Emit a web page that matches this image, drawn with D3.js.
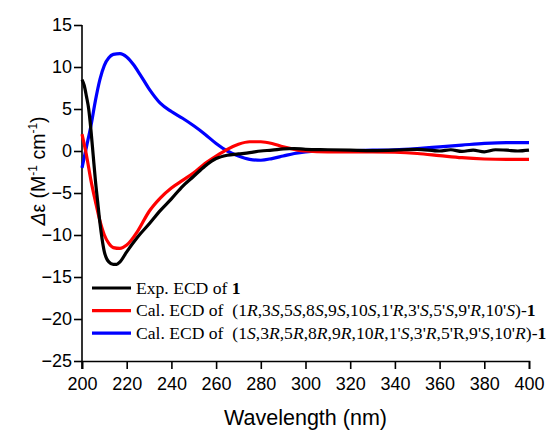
<!DOCTYPE html>
<meta charset="utf-8">
<style>
  body { margin: 0; background: #fff; }
  svg { display: block; }
</style>
<svg width="549" height="430"></svg>
<script src="https://d3js.org/d3.v7.min.js"></script>
<script>

// wavelengths (nm) and Δε values
var expWl  = [200,201,202,203,204,205,206,207,208,209,210,211,212,214,215.5,217,220,225,230,235,240,245,250,255,260,265,270,275,280,285,290,295,300,310,320,330,340,350,360,365,370,375,380,385,390,395,400];
var expVal = [8.5,7.8,6.5,5,2.5,-0.5,-3.5,-6,-8.5,-10.5,-12,-12.8,-13.2,-13.5,-13.5,-13.2,-12,-10.2,-8.7,-7.1,-5.7,-4.2,-3,-1.8,-0.9,-0.5,-0.35,-0.2,0,0.1,0.25,0.3,0.2,0.15,0.1,0.05,0.1,0.2,0,0.15,-0.05,0.1,-0.1,0.15,0.1,0,0.1];

var redWl  = [200,202,204,206,208,210,212,214,217,220,225,230,235,240,245,250,255,260,265,270,275,280,285,290,295,300,310,320,330,340,350,360,370,380,390,400];
var redVal = [2,-0.5,-3.5,-6,-8.3,-10,-11,-11.5,-11.6,-11.2,-9.5,-7.2,-5.6,-4.4,-3.5,-2.6,-1.5,-0.6,0.2,0.8,1.1,1.1,0.9,0.5,0.2,0,-0.1,-0.1,-0.1,-0.15,-0.3,-0.55,-0.8,-0.95,-1,-1];

var blueWl  = [200,202,204,206,208,210,212,214,217,220,223,226,230,235,240,245,250,255,260,265,270,275,280,285,290,295,300,310,320,330,340,350,360,370,380,390,400];
var blueVal = [-2,0.5,3,6,8.5,10.2,11.1,11.5,11.6,11.2,10.3,9.1,7.4,5.7,4.7,3.9,3,2,0.9,0,-0.6,-1,-1.1,-0.9,-0.6,-0.3,-0.1,0.05,0.05,0.1,0.15,0.3,0.5,0.7,0.9,1,1];

var xTicks = [200,220,240,260,280,300,320,340,360,380,400];
var yTicks = [-25,-20,-15,-10,-5,0,5,10,15];

var svg = d3.select("svg"),
    margin = {top: 25, left: 82},
    width = 447,
    height = 336,
    g = svg.append("g").attr("transform", "translate(" + margin.left + "," + margin.top + ")");

var x = d3.scaleLinear().domain([200, 400]).range([0, width]);
var y = d3.scaleLinear().domain([-25, 15]).range([height, 0]);

var sans = "Arial, 'Liberation Sans', sans-serif",
    serif = "'Times New Roman', 'Liberation Serif', serif";

var xAxis = g.append("g")
    .attr("transform", "translate(0," + height + ")")
    .call(d3.axisBottom(x).tickValues(xTicks).tickSizeOuter(0).tickSize(8).tickPadding(8));
var yAxis = g.append("g")
    .call(d3.axisLeft(y).tickValues(yTicks).tickSizeOuter(0).tickSize(8).tickPadding(2));

[xAxis, yAxis].forEach(function(a) {
  a.selectAll("path, line").attr("stroke", "#000").attr("stroke-width", 1.6);
  a.selectAll("text").attr("font-family", sans).attr("font-size", 18).attr("fill", "#000");
});
// little overshoot so the origin looks like a cross
yAxis.select(".domain").attr("d", "M0,0V" + (height + 8));

var line = d3.line()
    .x(function(d) { return x(d[0]); })
    .y(function(d) { return y(d[1]); })
    .curve(d3.curveMonotoneX);

var series = [
  {wl: expWl, val: expVal, color: "#000000"},
  {wl: redWl, val: redVal, color: "#ff0000"},
  {wl: blueWl, val: blueVal, color: "#0000ff"}
];

// blue first, then red, black on top
[series[2], series[1], series[0]].forEach(function(s) {
  g.append("path")
      .datum(d3.zip(s.wl, s.val))
      .attr("fill", "none")
      .attr("stroke", s.color)
      .attr("stroke-width", 3.2)
      .attr("stroke-linejoin", "round")
      .attr("d", line);
});

// axis titles
svg.append("text")
    .attr("x", margin.left + width / 2)
    .attr("y", 425)
    .attr("text-anchor", "middle")
    .attr("font-family", sans)
    .attr("font-size", 21.5)
    .text("Wavelength (nm)");

var yt = svg.append("text")
    .attr("transform", "translate(45,171) rotate(-90)")
    .attr("text-anchor", "middle")
    .attr("font-family", sans)
    .attr("font-size", 19.5);
yt.append("tspan").attr("font-style", "italic").text("\u0394");
yt.append("tspan").text("\u03b5 (M");
yt.append("tspan").attr("font-size", 12).attr("dy", -8).text("-1");
yt.append("tspan").attr("dy", 8).text(" cm");
yt.append("tspan").attr("font-size", 12).attr("dy", -8).text("-1");
yt.append("tspan").attr("dy", 8).text(")");

// legend
var legend = svg.append("g").attr("font-family", serif).attr("font-size", 17.6);
var rows = [0, 1, 2].map(function(i) { return 288 + i * 22.6; });

function row(i, color, build) {
  legend.append("line")
      .attr("x1", 92).attr("x2", 131)
      .attr("y1", rows[i]).attr("y2", rows[i])
      .attr("stroke", color).attr("stroke-width", 3.2);
  var t = legend.append("text").attr("x", 136).attr("y", rows[i] + 5.5);
  build(t);
}

function config(t, parts) {
  parts.forEach(function(p) {
    var s = t.append("tspan").text(p[0]);
    if (p[1] === "i") s.attr("font-style", "italic");
    if (p[1] === "b") s.attr("font-weight", "bold");
  });
}

row(0, "#000", function(t) {
  config(t, [["Exp. ECD of "], ["1", "b"]]);
});
row(1, "#ff0000", function(t) {
  config(t, [["Cal. ECD of \u00a0(1"], ["R", "i"], [",3"], ["S", "i"], [",5"], ["S", "i"], [",8"], ["S", "i"],
    [",9"], ["S", "i"], [",10"], ["S", "i"], [",1'"], ["R", "i"], [",3'"], ["S", "i"], [",5'"], ["S", "i"],
    [",9'"], ["R", "i"], [",10'"], ["S", "i"], [")-"], ["1", "b"]]);
});
row(2, "#0000ff", function(t) {
  config(t, [["Cal. ECD of \u00a0(1"], ["S", "i"], [",3"], ["R", "i"], [",5"], ["R", "i"], [",8"], ["R", "i"],
    [",9"], ["R", "i"], [",10"], ["R", "i"], [",1'"], ["S", "i"], [",3'"], ["R", "i"], [",5'R,9'"], ["S", "i"],
    [",10'"], ["R", "i"], [")-"], ["1", "b"]]);
});

</script>
